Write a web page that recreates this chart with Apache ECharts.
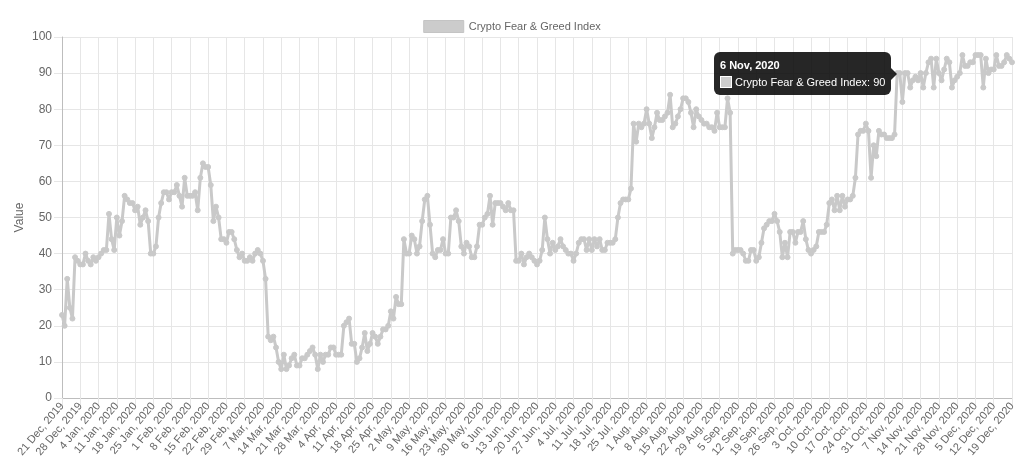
<!DOCTYPE html>
<html>
<head>
<meta charset="utf-8">
<script src="https://cdn.jsdelivr.net/npm/echarts@6/dist/echarts.min.js"></script>
<style>
  html, body { margin: 0; padding: 0; background: #fff; }
  #chart { width: 1024px; height: 468px; }
</style>
</head>
<body>
<div id="chart"></div>
<script>
// Daily Crypto Fear & Greed Index values, 21 Dec 2019 – 19 Dec 2020
const dec2019 = [23,20,33,25,22,39,38,37,37,40,38];
const jan2020 = [37,39,38,39,40,41,41,51,44,41,50,45,49,56,55,54,54,52,53,48,50,52,49,40,40,42,50,54,57,57,55];
const feb2020 = [57,57,59,56,53,61,56,56,56,57,52,61,65,64,64,59,49,53,50,44,44,43,46,46,44,41,39,40,38];
const mar2020 = [38,39,38,40,41,40,38,33,17,16,17,14,10,8,12,8,9,11,12,9,9,11,11,12,13,14,12,8,12,10,12];
const apr2020 = [12,14,14,12,12,12,20,21,22,15,15,10,11,14,18,13,15,18,17,15,17,19,19,20,24,22,28,26,26,44];
const may2020 = [40,40,45,44,40,42,49,55,56,48,40,39,41,41,44,40,40,50,50,52,49,42,40,43,42,39,39,42,48,48,50];
const jun2020 = [51,56,48,54,54,54,53,52,54,52,52,38,38,40,37,39,40,39,38,37,38,41,50,44,40,43,41,42,44,42];
const jul2020 = [41,40,40,38,40,43,44,44,41,44,41,44,42,44,41,41,43,43,43,44,50,54,55,55,55,58,76,71,76,75,76];
const aug2020 = [80,76,72,75,79,77,77,78,79,84,75,76,78,80,83,83,82,79,75,80,78,77,76,76,75,75,74,79,75,75,75];
const sep2020 = [83,79,40,41,41,41,40,38,38,41,41,38,39,43,47,48,49,49,51,49,46,39,43,39,46,46,43,46,46,49];
const oct2020 = [44,41,40,41,42,46,46,46,48,54,55,52,56,52,56,53,55,55,56,61,73,74,74,76,74,61,70,67,74,73,73];
const nov2020 = [72,72,72,73,90,90,82,90,90,86,88,89,88,90,86,90,93,94,86,94,90,88,91,94,93,86,88,89,90,95];
const dec2020 = [92,92,93,93,95,95,95,86,94,90,91,91,95,92,92,93,95,94,93];

const monthNames = ['Jan','Feb','Mar','Apr','May','Jun','Jul','Aug','Sep','Oct','Nov','Dec'];
const startDateUTC = Date.UTC(2019, 11, 21);
const seriesName = 'Crypto Fear & Greed Index';
const yTicks = { min: 0, max: 100, step: 10 };
const tooltipDate = '6 Nov, 2020';

const values = [].concat(dec2019, jan2020, feb2020, mar2020, apr2020, may2020,
  jun2020, jul2020, aug2020, sep2020, oct2020, nov2020, dec2020);
const categories = values.map(function (_, i) {
  const d = new Date(startDateUTC + i * 86400000);
  return d.getUTCDate() + ' ' + monthNames[d.getUTCMonth()] + ', ' + d.getUTCFullYear();
});

const FONT = '"Liberation Sans", Arial, Helvetica, sans-serif';
const LINE = '#c9c9c9';

const chart = echarts.init(document.getElementById('chart'), null, { renderer: 'canvas' });
chart.setOption({
  animation: false,
  textStyle: { fontFamily: FONT },
  legend: {
    top: 15,
    left: 'center',
    icon: 'rect',
    itemWidth: 40,
    itemHeight: 12,
    itemGap: 10,
    textStyle: { color: '#666', fontSize: 11, fontFamily: FONT },
    data: [{ name: seriesName, itemStyle: { color: '#cccccc', borderColor: '#c4c4c4', borderWidth: 1 } }]
  },
  grid: { left: 62, right: 12, top: 37, bottom: 70, containLabel: false },
  tooltip: {
    trigger: 'item',
    triggerOn: 'none',
    alwaysShowContent: true,
    transitionDuration: 0,
    backgroundColor: 'rgba(0,0,0,0.85)',
    borderWidth: 0,
    padding: [6, 6, 6, 6],
    extraCssText: 'border-radius:6px;box-shadow:none;overflow:visible;',
    textStyle: { color: '#fff', fontSize: 11, fontFamily: FONT },
    formatter: function (p) {
      return '<div style="font-weight:bold;line-height:14px;margin-bottom:3px;">' + p.name + '</div>' +
        '<div style="line-height:14px;white-space:nowrap;"><span style="display:inline-block;width:10px;height:10px;background:#cccccc;border:1px solid #fff;vertical-align:-2px;margin-right:3px;"></span>' +
        p.seriesName + ': ' + p.value + '</div>' +
        '<div style="position:absolute;right:-6px;top:50%;margin-top:-6px;width:0;height:0;border-top:6px solid transparent;border-bottom:6px solid transparent;border-left:6px solid rgba(0,0,0,0.85);"></div>';
    },
    position: function (point, params, dom, rect, size) {
      return [point[0] - size.contentSize[0] - 9, point[1] - size.contentSize[1] / 2];
    }
  },
  xAxis: {
    type: 'category',
    boundaryGap: false,
    data: categories,
    axisLine: { show: true, lineStyle: { color: '#bdbdbd', width: 1 } },
    axisTick: { show: true, interval: 6, length: 8, lineStyle: { color: '#e6e6e6' } },
    axisLabel: {
      interval: 6,
      rotate: 50,
      color: '#666',
      fontSize: 11,
      margin: 6,
      fontFamily: FONT
    },
    splitLine: { show: true, interval: 6, lineStyle: { color: '#e6e6e6', width: 1 } }
  },
  yAxis: {
    type: 'value',
    min: yTicks.min,
    max: yTicks.max,
    interval: yTicks.step,
    name: 'Value',
    nameLocation: 'middle',
    nameGap: 36,
    nameMoveOverlap: false,
    nameTextStyle: { color: '#666', fontSize: 12, fontFamily: FONT },
    axisLine: { show: true, lineStyle: { color: '#bdbdbd', width: 1 } },
    axisTick: { show: true, length: 8, lineStyle: { color: '#e6e6e6' } },
    axisLabel: { color: '#666', fontSize: 12, margin: 10, fontFamily: FONT },
    splitLine: { show: true, lineStyle: { color: '#e6e6e6', width: 1 } }
  },
  series: [{
    name: seriesName,
    type: 'line',
    data: values,
    symbol: 'circle',
    symbolSize: 5,
    showAllSymbol: true,
    lineStyle: { color: LINE, width: 3 },
    itemStyle: { color: LINE, borderColor: LINE, borderWidth: 1 },
    emphasis: { disabled: true },
    z: 3
  }]
});

chart.dispatchAction({ type: 'showTip', seriesIndex: 0, dataIndex: categories.indexOf(tooltipDate) });
</script>
</body>
</html>
